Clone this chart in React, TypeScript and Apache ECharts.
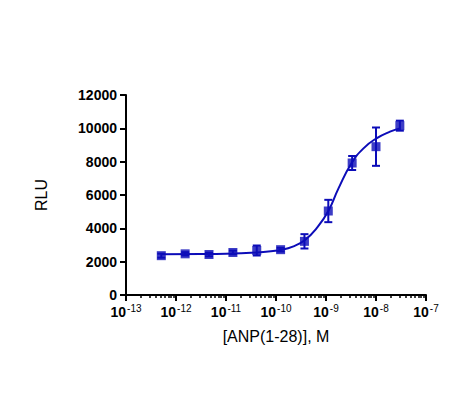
import React, { useEffect, useRef } from "react";
import * as echarts from "echarts";

// log10 of [ANP(1-28)] concentration, M
const doseLogM = [-12.294, -11.817, -11.34, -10.862, -10.385, -9.908, -9.431, -8.954, -8.477, -8.0, -7.523];
const rluMean = [2360, 2470, 2430, 2550, 2670, 2720, 3220, 5040, 7920, 8900, 10160];
const rluErr = [120, 100, 110, 110, 300, 110, 430, 670, 420, 1150, 300];

// fitted curve
const curveLogM = [-12.294, -11.5, -11.0, -10.5, -10.2, -9.92, -9.65, -9.42, -9.19, -8.95, -8.75, -8.49, -8.25, -7.99, -7.72, -7.523];
const curveRlu = [2450, 2460, 2480, 2530, 2600, 2700, 2920, 3300, 4000, 5060, 6400, 7900, 8800, 9400, 9800, 9990];

const decades = [-13, -12, -11, -10, -9, -8, -7];
const yTicks = [0, 2000, 4000, 6000, 8000, 10000, 12000];

const BLUE = "#0c0cb8";
const FONT = "Liberation Sans, Arial, sans-serif";

export default function App() {
  const ref = useRef<HTMLDivElement>(null);
  useEffect(() => {
    if (!ref.current) return;
    const chart = echarts.init(ref.current, undefined, { renderer: "svg" });
    const minor: number[] = [];
    for (let d = decades[0]; d < decades[decades.length - 1]; d++) {
      for (let k = 2; k <= 9; k++) minor.push(d + Math.log10(k));
    }
    chart.setOption({
      animation: false,
      backgroundColor: "#ffffff",
      grid: { left: 126, right: 42, top: 95, bottom: 99 },
      xAxis: [
        {
          type: "value",
          min: decades[0],
          max: decades[decades.length - 1],
          interval: 1,
          name: "[ANP(1-28)], M",
          nameLocation: "middle",
          nameGap: 33,
          nameTextStyle: { fontFamily: FONT, fontSize: 16, color: "#000" },
          axisLine: { show: true, lineStyle: { color: "#000", width: 2 } },
          axisTick: { show: true, length: 6, lineStyle: { color: "#000", width: 2 } },
          splitLine: { show: false },
          axisLabel: {
            margin: 8,
            formatter: (v: number) => `{b|10}{s|${Math.round(v)}}`,
            rich: {
              b: { fontFamily: FONT, fontSize: 14, fontWeight: "bold", color: "#000" },
              s: { fontFamily: FONT, fontSize: 10, color: "#000", padding: [0, 0, 7, 1] },
            },
          },
        },
        {
          type: "value",
          min: decades[0],
          max: decades[decades.length - 1],
          position: "bottom",
          axisLine: { show: false },
          axisTick: { show: true, length: 3, customValues: minor, lineStyle: { color: "#000", width: 1.5 } },
          axisLabel: { show: false },
          splitLine: { show: false },
        },
      ],
      yAxis: {
        type: "value",
        min: yTicks[0],
        max: yTicks[yTicks.length - 1],
        interval: 2000,
        name: "RLU",
        nameLocation: "middle",
        nameGap: 77,
        nameRotate: 90,
        nameTextStyle: { fontFamily: FONT, fontSize: 16, color: "#000" },
        axisLine: { show: true, lineStyle: { color: "#000", width: 2 } },
        axisTick: { show: true, length: 6, lineStyle: { color: "#000", width: 2 } },
        splitLine: { show: false },
        axisLabel: {
          margin: 9,
          formatter: (v: number) => String(v),
          fontFamily: FONT,
          fontSize: 14,
          fontWeight: "bold",
          color: "#000",
        },
      },
      series: [
        {
          type: "line",
          data: curveLogM.map((x, i) => [x, curveRlu[i]]),
          smooth: true,
          showSymbol: false,
          lineStyle: { color: BLUE, width: 2 },
          z: 2,
        },
        {
          type: "custom",
          data: doseLogM.map((x, i) => [x, rluMean[i], rluErr[i]]),
          encode: { x: 0, y: 1 },
          z: 3,
          renderItem: (params: any, api: any) => {
            const x = api.value(0);
            const y = api.value(1);
            const e = api.value(2);
            const top = api.coord([x, y + e]);
            const bot = api.coord([x, y - e]);
            const hw = 4;
            const style = { stroke: BLUE, lineWidth: 2 };
            return {
              type: "group",
              children: [
                { type: "line", shape: { x1: top[0], y1: top[1], x2: bot[0], y2: bot[1] }, style },
                { type: "line", shape: { x1: top[0] - hw, y1: top[1], x2: top[0] + hw, y2: top[1] }, style },
                { type: "line", shape: { x1: bot[0] - hw, y1: bot[1], x2: bot[0] + hw, y2: bot[1] }, style },
              ],
            };
          },
        },
        {
          type: "scatter",
          data: doseLogM.map((x, i) => [x, rluMean[i]]),
          symbol: "rect",
          symbolSize: 9,
          itemStyle: { color: BLUE },
          z: 4,
        },
      ],
    });
    return () => chart.dispose();
  }, []);
  return (
    <div
      ref={ref}
      style={{ position: "fixed", left: 0, top: 0, width: 468, height: 394, background: "#fff" }}
    />
  );
}
